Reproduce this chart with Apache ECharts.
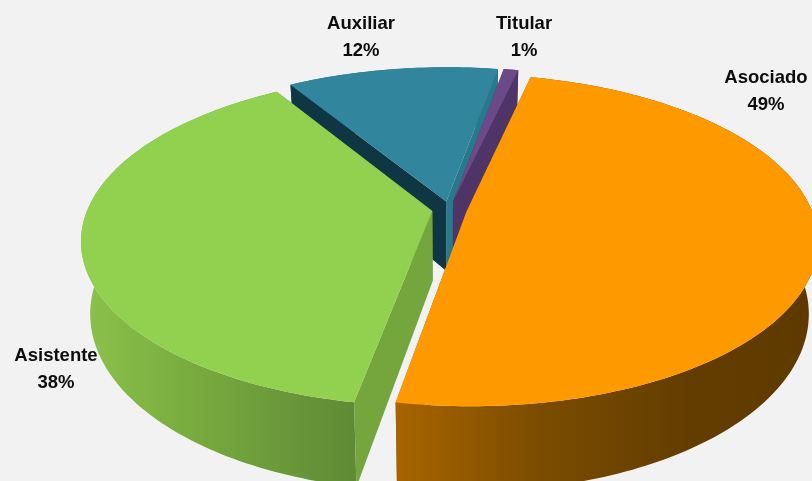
<!DOCTYPE html>
<html>
<head>
<meta charset="utf-8">
<style>html,body{margin:0;padding:0;background:#f2f2f2}#c{width:812px;height:481px}</style>
<script src="https://cdn.jsdelivr.net/npm/echarts@6/dist/echarts.min.js"></script>
</head>
<body>
<div id="c"></div>
<script>
// Data (clockwise from the first slice); the labels show these rounded
var categories = ['Asociado', 'Asistente', 'Auxiliar', 'Titular'];
var values = [49.25, 38.35, 11.6, 0.8];

// Styling and layout
var firstAngle = 13;            // degrees clockwise from the back of the disc
var drawOrder = [2, 3, 1, 0];   // painter's order, back to front
var topColors = ['#FF9900', '#92D050', '#31859C', '#6C4A87'];
var startWallColors = ['#A86400', '#75A63E', '#0F3743', '#4F3468'];
var endWallColors = ['#A86400', '#75A63E', '#27798D', '#4F3468'];
var arcStops = [
  ['#A86400', '#7A4C00', '#633D00', '#5F3A00'],
  ['#8CC24B', '#7BAE40', '#6C9A3A', '#5F8A35'],
  ['#27798D', '#27798D', '#27798D', '#27798D'],
  ['#4F3468', '#4F3468', '#4F3468', '#4F3468']
];
var labelAnchors = [[766, 91], [56, 369], [361, 37], [524, 37]];
var G = {cx: 449.5, cy: 209.5, rx: 350, ry: 162.8, k: 0.1776, r: 0.985, explode: 0.05, depth: 70, shrink: 0.975};

function project(u, v, low) {
  var w = 1 - G.k * v;
  var x = G.rx * u / w, y = G.ry * v / w;
  if (low) { x *= G.shrink; y += G.depth / w; }
  return [G.cx + x, G.cy + y];
}
function discPoint(a, radius, mid, low) {
  var e = G.explode;
  var u = e * Math.sin(mid) + radius * Math.sin(a);
  var v = -e * Math.cos(mid) - radius * Math.cos(a);
  return project(u, v, low);
}
function arcPoints(a0, a1, mid, low) {
  var n = Math.max(2, Math.ceil((a1 - a0) / 0.02)), pts = [];
  for (var i = 0; i <= n; i++) pts.push(discPoint(a0 + (a1 - a0) * i / n, G.r, mid, low));
  return pts;
}

var total = values.reduce(function (s, v) { return s + v; }, 0);
var starts = [], acc = firstAngle;
values.forEach(function (v) { starts.push(acc); acc += v / total * 360; });
var seriesData = drawOrder.map(function (i) { return [i, values[i], starts[i]]; });

function renderSlice(params, api) {
  var i = api.value(0);
  var a0 = api.value(2) * Math.PI / 180;
  var a1 = a0 + api.value(1) / total * 2 * Math.PI;
  var mid = (a0 + a1) / 2;
  var apexT = discPoint(0, 0, mid, false), apexB = discPoint(0, 0, mid, true);
  var top = arcPoints(a0, a1, mid, false), bot = arcPoints(a0, a1, mid, true);
  var s = arcStops[i];
  var grad = new echarts.graphic.LinearGradient(0, 0, 1, 0, [
    {offset: 0, color: s[0]}, {offset: .35, color: s[1]}, {offset: .7, color: s[2]}, {offset: 1, color: s[3]}
  ]);
  var poly = function (pts, fill) { return {type: 'polygon', shape: {points: pts}, style: {fill: fill}, silent: true}; };
  return {
    type: 'group',
    children: [
      poly([apexT, top[top.length - 1], bot[bot.length - 1], apexB], endWallColors[i]),
      poly(top.concat(bot.slice().reverse()), grad),
      poly([apexT, top[0], bot[0], apexB], startWallColors[i]),
      poly([apexT].concat(top), topColors[i])
    ]
  };
}
function renderLabel(params, api) {
  var i = api.value(0);
  return {
    type: 'text',
    style: {
      text: categories[i] + '\n' + Math.round(values[i]) + '%',
      x: labelAnchors[i][0], y: labelAnchors[i][1],
      align: 'center', verticalAlign: 'middle',
      font: 'bold 18.5px "Liberation Sans", Arial, sans-serif',
      lineHeight: 27, fill: '#0D0D0D'
    },
    silent: true
  };
}

var chart = echarts.init(document.getElementById('c'), null, {renderer: 'canvas'});
chart.setOption({
  backgroundColor: '#F2F2F2',
  animation: false,
  series: [
    {type: 'custom', coordinateSystem: 'none', renderItem: renderSlice, data: seriesData, silent: true, z: 1},
    {type: 'custom', coordinateSystem: 'none', renderItem: renderLabel, data: seriesData, silent: true, z: 2}
  ]
});
</script>
</body>
</html>
